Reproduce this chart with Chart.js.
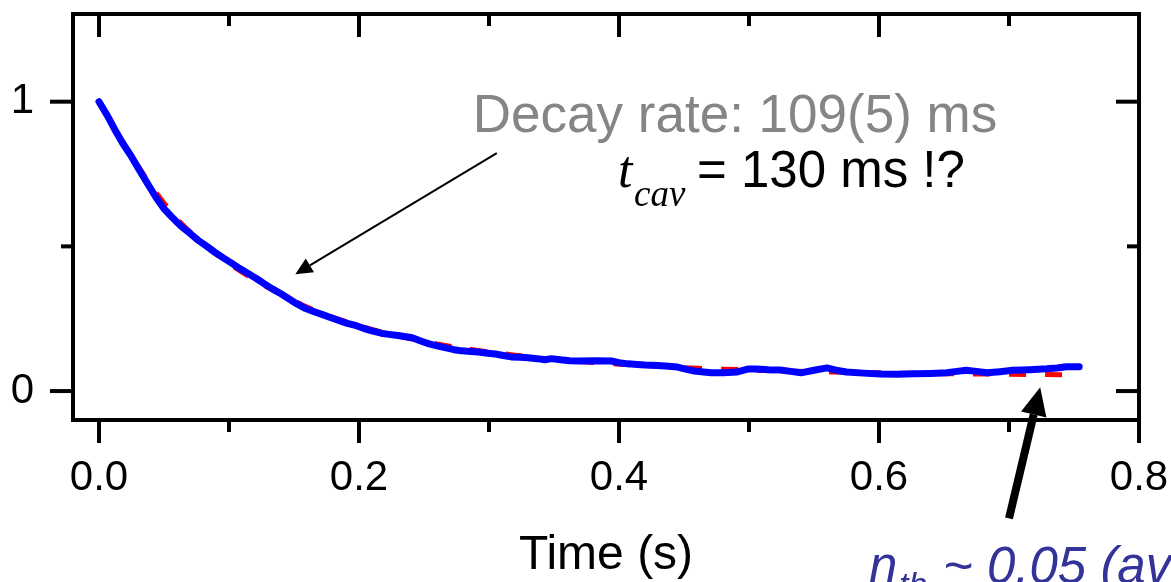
<!DOCTYPE html>
<html>
<head>
<meta charset="utf-8">
<script src="https://cdn.jsdelivr.net/npm/chart.js@4.4.0/dist/chart.umd.min.js"></script>
<style>
  html, body { margin: 0; padding: 0; background: #fff; overflow: hidden; }
</style>
</head>
<body>
<canvas id="decay" width="1171" height="582"></canvas>
<script>
// Measured cavity signal (blue)
const timeS = [0.000, 0.006, 0.012, 0.018, 0.025, 0.031, 0.038, 0.044, 0.050, 0.057,
  0.063, 0.070, 0.076, 0.083, 0.089, 0.095, 0.102, 0.108, 0.115, 0.121,
  0.127, 0.133, 0.140, 0.146, 0.152, 0.159, 0.165, 0.172, 0.178, 0.185,
  0.191, 0.198, 0.204, 0.210, 0.217, 0.223, 0.230, 0.241, 0.248, 0.254,
  0.260, 0.267, 0.273, 0.279, 0.286, 0.292, 0.299, 0.305, 0.311, 0.317,
  0.324, 0.330, 0.337, 0.343, 0.348, 0.355, 0.362, 0.369, 0.381, 0.394,
  0.400, 0.407, 0.414, 0.420, 0.430, 0.438, 0.445, 0.452, 0.458, 0.465,
  0.471, 0.480, 0.491, 0.499, 0.506, 0.515, 0.524, 0.532, 0.540, 0.550,
  0.560, 0.567, 0.575, 0.588, 0.601, 0.614, 0.627, 0.640, 0.652, 0.660,
  0.667, 0.675, 0.683, 0.693, 0.703, 0.716, 0.729, 0.737, 0.744, 0.754];
const signal = [1.000, 0.955, 0.905, 0.858, 0.810, 0.764, 0.712, 0.668, 0.630, 0.597,
  0.570, 0.545, 0.522, 0.500, 0.480, 0.462, 0.442, 0.424, 0.405, 0.389,
  0.371, 0.354, 0.336, 0.319, 0.302, 0.285, 0.275, 0.264, 0.254, 0.243,
  0.234, 0.226, 0.216, 0.208, 0.200, 0.196, 0.192, 0.184, 0.172, 0.163,
  0.156, 0.149, 0.143, 0.139, 0.137, 0.135, 0.131, 0.128, 0.123, 0.118,
  0.117, 0.115, 0.112, 0.108, 0.112, 0.108, 0.105, 0.104, 0.105, 0.104,
  0.098, 0.094, 0.092, 0.090, 0.088, 0.086, 0.083, 0.075, 0.069, 0.066,
  0.063, 0.063, 0.066, 0.076, 0.076, 0.074, 0.073, 0.068, 0.063, 0.072,
  0.080, 0.072, 0.066, 0.062, 0.059, 0.058, 0.060, 0.061, 0.063, 0.068,
  0.072, 0.068, 0.063, 0.067, 0.072, 0.074, 0.077, 0.080, 0.084, 0.084];

// Exponential fit (red dashed)
const fitTimeS = [0, 0.01, 0.02, 0.03, 0.04, 0.05, 0.06, 0.07, 0.08, 0.09,
  0.10, 0.11, 0.12, 0.13, 0.14, 0.15, 0.16, 0.17, 0.18, 0.19,
  0.20, 0.22, 0.24, 0.26, 0.28, 0.30, 0.32, 0.34, 0.36, 0.38,
  0.40, 0.43, 0.46, 0.50, 0.55, 0.60, 0.65, 0.70, 0.755];
const fitSignal = [1.000, 0.922, 0.848, 0.778, 0.710, 0.650, 0.595, 0.550, 0.509, 0.473,
  0.440, 0.411, 0.383, 0.358, 0.335, 0.312, 0.290, 0.272, 0.255, 0.240,
  0.226, 0.201, 0.181, 0.163, 0.148, 0.135, 0.124, 0.114, 0.106, 0.099,
  0.093, 0.086, 0.079, 0.073, 0.067, 0.063, 0.060, 0.058, 0.056];

const xTickValues = [0, 0.1, 0.2, 0.3, 0.4, 0.5, 0.6, 0.7, 0.8];
const xTickLabels = ['0.0', '', '0.2', '', '0.4', '', '0.6', '', '0.8'];
const yTickValues = [0, 0.5, 1];
const yTickLabels = ['0', '', '1'];

// annotation arrows, in data coordinates [t0, v0, t1, v1]
const decayArrow = [0.306, 0.822, 0.151, 0.404];
const nthArrow = [0.700, -0.44, 0.724, 0.013];

const sans = '"Liberation Sans", Arial, sans-serif';
const serif = '"Liberation Serif", "Times New Roman", serif';

function toPoints(xs, ys) {
  return xs.map((t, i) => ({ x: t, y: ys[i] }));
}

function arrow(ctx, x0, y0, x1, y1, width, headLen, headHalf) {
  const ang = Math.atan2(y1 - y0, x1 - x0);
  const bx = x1 - headLen * Math.cos(ang);
  const by = y1 - headLen * Math.sin(ang);
  ctx.lineWidth = width;
  ctx.beginPath();
  ctx.moveTo(x0, y0);
  ctx.lineTo(bx, by);
  ctx.stroke();
  ctx.beginPath();
  ctx.moveTo(x1, y1);
  ctx.lineTo(bx + headHalf * Math.sin(ang), by - headHalf * Math.cos(ang));
  ctx.lineTo(bx - headHalf * Math.sin(ang), by + headHalf * Math.cos(ang));
  ctx.closePath();
  ctx.fill();
}

const frameAndNotes = {
  id: 'frameAndNotes',
  afterDraw(chart) {
    const ctx = chart.ctx;
    const a = chart.chartArea;
    const x = chart.scales.x;
    const y = chart.scales.y;
    ctx.save();
    ctx.strokeStyle = '#000';
    ctx.fillStyle = '#000';
    ctx.lineWidth = 4;
    ctx.strokeRect(a.left, a.top, a.right - a.left, a.bottom - a.top);

    // tick marks: out on bottom/left, in on top/right
    const seg = (x0, y0, x1, y1) => {
      ctx.beginPath(); ctx.moveTo(x0, y0); ctx.lineTo(x1, y1); ctx.stroke();
    };
    xTickValues.forEach((v, i) => {
      const px = x.getPixelForValue(v);
      const len = xTickLabels[i] ? 23 : 12;
      seg(px, a.bottom, px, a.bottom + len);
      seg(px, a.top, px, a.top + len);
    });
    yTickValues.forEach((v, i) => {
      const py = y.getPixelForValue(v);
      const len = yTickLabels[i] ? 23 : 12;
      seg(a.left - len, py, a.left, py);
      seg(a.right - len, py, a.right, py);
    });

    // arrows
    arrow(ctx, x.getPixelForValue(decayArrow[0]), y.getPixelForValue(decayArrow[1]),
      x.getPixelForValue(decayArrow[2]), y.getPixelForValue(decayArrow[3]), 2, 17, 8);
    arrow(ctx, x.getPixelForValue(nthArrow[0]), y.getPixelForValue(nthArrow[1]),
      x.getPixelForValue(nthArrow[2]), y.getPixelForValue(nthArrow[3]), 8, 28, 13);

    // texts
    ctx.textBaseline = 'alphabetic';
    ctx.textAlign = 'center';
    ctx.fillStyle = '#858585';
    ctx.font = '53px ' + sans;
    ctx.fillText('Decay rate: 109(5) ms', 735, 132);

    ctx.textAlign = 'left';
    ctx.fillStyle = '#000';
    ctx.font = 'italic 52px ' + serif;
    ctx.fillText('t', 618, 187);
    ctx.font = 'italic 37px ' + serif;
    ctx.fillText('cav', 634, 206);
    ctx.font = '51px ' + sans;
    ctx.fillText('= 130 ms !?', 697, 187);

    ctx.fillStyle = '#333399';
    ctx.font = 'italic 51px ' + sans;
    ctx.fillText('n', 869, 583);
    ctx.font = 'italic 34px ' + sans;
    ctx.fillText('th', 899, 596);
    ctx.font = 'italic 51px ' + sans;
    ctx.fillText('~ 0.05 (av', 943, 583);
    ctx.restore();
  }
};

new Chart(document.getElementById('decay'), {
  type: 'line',
  data: {
    datasets: [{
      label: 'signal',
      data: toPoints(timeS, signal),
      borderColor: '#0000ff',
      borderWidth: 7,
      borderCapStyle: 'round',
      borderJoinStyle: 'round',
      pointRadius: 0,
      tension: 0
    }, {
      label: 'fit',
      data: toPoints(fitTimeS, fitSignal),
      borderColor: '#ff0000',
      borderWidth: 5,
      borderDash: [17, 19],
      pointRadius: 0,
      tension: 0.3
    }]
  },
  options: {
    responsive: false,
    animation: false,
    devicePixelRatio: 1,
    layout: { padding: { left: 0, top: 14, right: 32, bottom: 0 } },
    plugins: {
      legend: { display: false },
      tooltip: { enabled: false }
    },
    scales: {
      x: {
        type: 'linear',
        min: -0.02,
        max: 0.8,
        grid: { display: false, drawTicks: false },
        border: { display: false },
        afterBuildTicks: (s) => { s.ticks = xTickValues.map(v => ({ value: v })); },
        afterFit: (s) => { s.height = 162; s.paddingLeft = 0; s.paddingRight = 0; },
        ticks: {
          autoSkip: false,
          maxRotation: 0,
          padding: 33,
          color: '#000',
          font: { family: sans, size: 42 },
          callback: (v, i) => xTickLabels[i]
        },
        title: {
          display: true,
          text: 'Time (s)',
          color: '#000',
          font: { family: sans, size: 48, lineHeight: 1.1 },
          padding: { top: 0, bottom: 0 }
        }
      },
      y: {
        type: 'linear',
        min: -0.1,
        max: 1.303,
        grid: { display: false, drawTicks: false },
        border: { display: false },
        afterBuildTicks: (s) => { s.ticks = yTickValues.map(v => ({ value: v })); },
        afterFit: (s) => { s.width = 73; s.paddingTop = 0; s.paddingBottom = 0; },
        ticks: {
          autoSkip: false,
          padding: 39,
          color: '#000',
          font: { family: sans, size: 42 },
          callback: (v, i) => yTickLabels[i]
        }
      }
    }
  },
  plugins: [frameAndNotes]
});
</script>
</body>
</html>
